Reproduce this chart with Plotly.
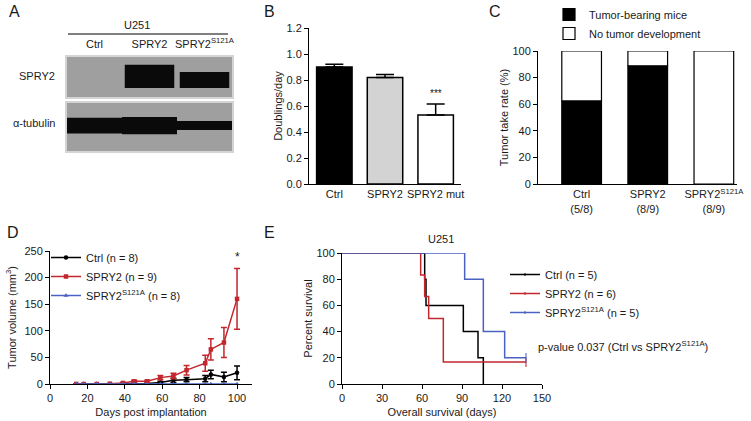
import plotly.graph_objects as go

FONT = "Liberation Sans, Arial, sans-serif"
INK = "#1a1a1a"
RED = "#C1272D"
BLUE = "#4A62C0"
W, H = 751, 421

# Panel A: western blot, relative band thickness per lane
blot_lanes = ["Ctrl", "SPRY2", "SPRY2<sup>S121A</sup>"]
spry2_band = [0.0, 0.58, 0.40]
tubulin_band = [0.33, 0.36, 0.19]

# Panel B: proliferation
b_groups = ["Ctrl", "SPRY2", "SPRY2 mut"]
b_mean = [0.90, 0.82, 0.53]
b_sem = [0.022, 0.022, 0.085]
b_sig = ["", "", "***"]
b_colors = ["#000000", "#d3d3d3", "#ffffff"]

# Panel C: tumor take rate
c_groups = ["Ctrl<br>(5/8)", "SPRY2<br>(8/9)", "SPRY2<sup>S121A</sup><br>(8/9)"]
c_tumor = [62.5, 88.9, 0.0]

# Panel D: tumor volume
d_days = [14, 18, 25, 32, 39, 45, 52, 59, 66, 73, 83, 86, 93, 100]
d_ctrl = [0, 0, 0, 0, 1, 1, 1, 3, 7, 8, 10, 18, 13, 21]
d_ctrl_err = [0, 0, 0, 0, 0.5, 0.5, 0.5, 1.5, 4, 4, 6, 8, 9, 13]
d_spry2 = [0, 0, 0, 0.5, 2, 5, 5, 12, 15, 26, 39, 65, 78, 160]
d_spry2_err = [0, 0, 0, 0.5, 1, 2, 2, 4, 5, 9, 15, 20, 28, 57]
d_mut = [0, 0, 0, 0, 0, 0, 0, 0, 0, 0, 0, 0, 0, 0]

# Panel E: Kaplan-Meier survival (step points)
e_ctrl_t = [0, 62, 63, 91, 102, 106]
e_ctrl_s = [100, 80, 60, 40, 20, 0]
e_spry2_t = [0, 59, 62, 65, 76, 138]
e_spry2_s = [100, 83.3, 66.7, 50, 16.7, 16.7]
e_mut_t = [0, 92, 106, 122, 138]
e_mut_s = [100, 80, 40, 20, 20]


def px_x(a, b):
    return [a / W, b / W]


def px_y(top, bottom):
    return [1 - bottom / H, 1 - top / H]


def axis(standoff=5, **kw):
    base = dict(showline=True, linecolor="black", linewidth=1, ticks="outside", ticklen=4,
                tickwidth=1, tickcolor="black", showgrid=False, zeroline=False, automargin=False,
                tickfont=dict(size=11, color=INK),
                title=dict(font=dict(size=11, color=INK), standoff=standoff))
    title_text = kw.pop("title_text", None)
    if title_text:
        base["title"]["text"] = title_text
    base.update(kw)
    return base


fig = go.Figure()

# A: blot bands
fig.add_trace(go.Bar(x=blot_lanes, y=spry2_band, base=0.225, width=0.9, marker_color="#0a0a0a",
                     marker_line_width=0, showlegend=False, xaxis="x", yaxis="y"))
fig.add_trace(go.Bar(x=blot_lanes, y=tubulin_band, base=[0.53 - h / 2 for h in tubulin_band], width=1.0,
                     marker_color="#0a0a0a", marker_line_width=0, showlegend=False, xaxis="x2", yaxis="y2"))

# B: bars
fig.add_trace(go.Bar(x=b_groups, y=b_mean, width=0.7, marker=dict(color=b_colors, line=dict(color="black", width=1.5)),
                     error_y=dict(type="data", array=b_sem, arrayminus=[0, 0, 0], symmetric=False,
                                  color="black", thickness=1.5, width=9),
                     showlegend=False, xaxis="x3", yaxis="y3"))

# C: stacked take rate
fig.add_trace(go.Bar(x=c_groups, y=c_tumor, width=0.6, name="Tumor-bearing mice",
                     marker=dict(color="black", line=dict(color="black", width=1.2)),
                     legend="legend", xaxis="x4", yaxis="y4"))
fig.add_trace(go.Bar(x=c_groups, y=[100 - v for v in c_tumor], base=c_tumor, width=0.6,
                     name="No tumor development",
                     marker=dict(color="white", line=dict(color="black", width=1.2)),
                     legend="legend", xaxis="x4", yaxis="y4"))

# D: growth curves
for name, ys, err, color, sym in [
    ("Ctrl (n = 8)", d_ctrl, d_ctrl_err, "black", "circle"),
    ("SPRY2 (n = 9)", d_spry2, d_spry2_err, RED, "square"),
    ("SPRY2<sup>S121A</sup> (n = 8)", d_mut, None, BLUE, "triangle-up"),
]:
    fig.add_trace(go.Scatter(
        x=d_days, y=ys, name=name, mode="lines+markers",
        line=dict(color=color, width=1.5), marker=dict(symbol=sym, size=4.5, color=color),
        error_y=None if err is None else dict(type="data", array=err, color=color, thickness=1.5, width=3),
        legend="legend2", xaxis="x5", yaxis="y5"))

# E: survival
for name, t, s, color, censored in [
    ("Ctrl (n = 5)", e_ctrl_t, e_ctrl_s, "black", False),
    ("SPRY2 (n = 6)", e_spry2_t, e_spry2_s, RED, True),
    ("SPRY2<sup>S121A</sup> (n = 5)", e_mut_t, e_mut_s, BLUE, True),
]:
    sizes = [0] * len(t)
    if censored:
        sizes[-1] = 7
    fig.add_trace(go.Scatter(
        x=t, y=s, name=name, mode="lines+markers", line=dict(color=color, width=1.5, shape="hv"),
        marker=dict(symbol="line-ns", size=sizes, line=dict(color=color, width=1.5)),
        legend="legend3", xaxis="x6", yaxis="y6"))

blot_ax = dict(showline=True, mirror=True, linecolor="#d4d4d4", linewidth=1.5, showgrid=False,
               zeroline=False, ticks="", range=[-0.5, 2.5], fixedrange=True, automargin=False)

legend_style = dict(xanchor="left", yanchor="top", bgcolor="rgba(0,0,0,0)", font=dict(size=11, color=INK),
                    tracegroupgap=0)

fig.update_layout(
    template="none",
    width=W, height=H, margin=dict(l=0, r=0, t=0, b=0, autoexpand=False),
    paper_bgcolor="white", plot_bgcolor="white",
    font=dict(family=FONT, size=11, color=INK),
    barmode="overlay",
    xaxis=dict(blot_ax, domain=px_x(67, 232), side="top", anchor="y",
               tickfont=dict(size=11, color=INK), ticklabelstandoff=3),
    yaxis=dict(blot_ax, domain=px_y(57, 97), range=[0, 1], showticklabels=False, anchor="x"),
    xaxis2=dict(blot_ax, domain=px_x(67, 232), showticklabels=False, anchor="y2"),
    yaxis2=dict(blot_ax, domain=px_y(103, 151), range=[0, 1], showticklabels=False, anchor="x2"),
    xaxis3=axis(domain=px_x(309, 461), range=[-0.5, 2.5], ticks="", anchor="y3"),
    yaxis3=axis(standoff=1, domain=px_y(28, 184), range=[0, 1.2], dtick=0.2, tickformat=".1f",
                title_text="Doublings/day", anchor="x3"),
    xaxis4=axis(domain=px_x(538, 737), range=[-0.66, 2.35], ticks="", anchor="y4"),
    yaxis4=axis(standoff=1, domain=px_y(51, 184), range=[0, 100], dtick=20,
                title_text="Tumor take rate (%)", anchor="x4"),
    xaxis5=axis(domain=px_x(50, 252), range=[0, 108], dtick=20,
                title_text="Days post implantation", anchor="y5"),
    yaxis5=axis(domain=px_y(251, 384), range=[0, 250], dtick=50,
                title_text="Tumor volume (mm<sup>3</sup>)", anchor="x5"),
    xaxis6=axis(domain=px_x(342, 542), range=[0, 150], dtick=30,
                title_text="Overall survival (days)", anchor="y6"),
    yaxis6=axis(standoff=1, domain=px_y(253, 384), range=[0, 100], dtick=20,
                title_text="Percent survival", anchor="x6"),
    legend=dict(legend_style, x=549 / W, y=1 - 0 / H),
    legend2=dict(legend_style, x=46 / W, y=1 - 243 / H),
    legend3=dict(legend_style, x=505 / W, y=1 - 260 / H),
)

# grey film behind blot bands
for ax in ["x", "x2"]:
    yref = "y" if ax == "x" else "y2"
    fig.add_shape(type="rect", xref=f"{ax} domain", yref=f"{yref} domain", x0=0, x1=1, y0=0, y1=1,
                  fillcolor="#9f9f9f", line_width=0, layer="below")

notes = [
    ("A", 7, 12, 16, "left"), ("B", 262, 12, 16, "left"), ("C", 487, 12, 16, "left"),
    ("D", 5, 233, 16, "left"), ("E", 262, 233, 16, "left"),
    ("U251", 137, 25, 11, "center"), ("U251", 441, 239, 11, "center"),
    ("SPRY2", 57, 76, 11, "right"), ("α-tubulin", 57, 123, 11, "right"),
    ("p-value 0.037 (Ctrl vs SPRY2<sup>S121A</sup>)", 536, 346, 11, "left"),
]
for text, x, y, size, align in notes:
    fig.add_annotation(text=text, x=x / W, y=1 - y / H, xref="paper", yref="paper",
                       xanchor=align, yanchor="middle", showarrow=False, font=dict(size=size, color=INK))

fig.add_shape(type="line", xref="paper", yref="paper", x0=68 / W, x1=228 / W,
              y0=1 - 34 / H, y1=1 - 34 / H, line=dict(color="black", width=1))

for g, m, e, s in zip(b_groups, b_mean, b_sem, b_sig):
    if s:
        fig.add_annotation(text=s, x=g, y=m + e + 0.02, xref="x3", yref="y3", yanchor="bottom",
                           showarrow=False, font=dict(size=10, color=INK))

fig.add_annotation(text="*", x=d_days[-1], y=d_spry2[-1] + d_spry2_err[-1] + 4, xref="x5", yref="y5",
                   yanchor="bottom", showarrow=False, font=dict(size=12, color=INK))

fig.write_html("out.html", config={"displayModeBar": False},
               post_script="document.body.style.margin='0px';")
